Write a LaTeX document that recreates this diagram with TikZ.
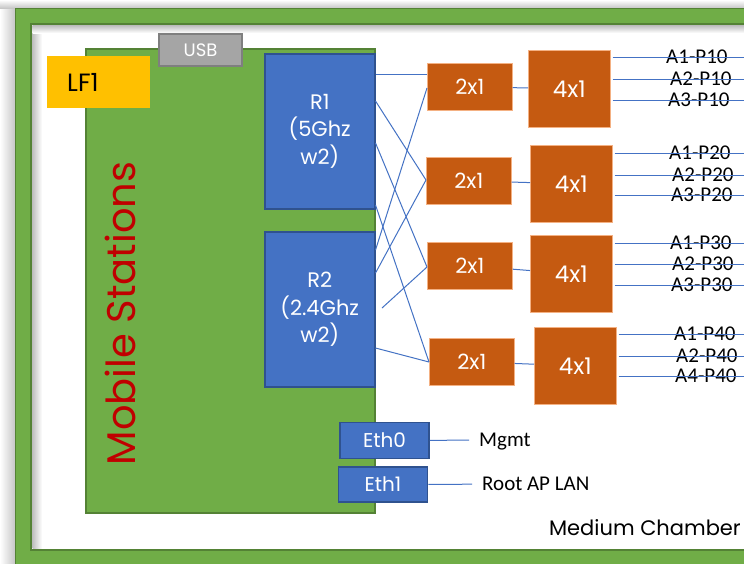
\documentclass[tikz,border=0pt]{standalone}
\usepackage{fontspec}
\setmainfont{Poppins}
\newfontfamily\calibfont{Carlito}
\usetikzlibrary{positioning}
\definecolor{grn}{HTML}{70AD47}
\definecolor{grndk}{HTML}{548235}
\definecolor{blu}{HTML}{4472C4}
\definecolor{bludk}{HTML}{2F528F}
\definecolor{org}{HTML}{C55A11}
\definecolor{orglt}{HTML}{F4B183}
\definecolor{ylw}{HTML}{FFC000}
\definecolor{usbgray}{HTML}{A5A5A5}
\definecolor{usbdk}{HTML}{7F7F7F}
\definecolor{redtxt}{HTML}{C00000}

\begin{document}
\begin{tikzpicture}[
    x=1pt, y=-1pt,
    every node/.style={inner sep=0pt},
    radio/.style={rectangle, anchor=north west, draw=bludk, fill=blu, line width=1.5pt,
                  minimum width=110pt, minimum height=155pt, align=center, text=white,
                  font=\fontsize{21}{27.5}\selectfont},
    net/.style={rectangle, draw=bludk, fill=blu, line width=1.5pt, text=white,
                minimum width=89pt, minimum height=36pt, font=\fontsize{20}{24}\selectfont},
    split/.style={rectangle, anchor=north west, draw=orglt, fill=org, line width=0.6pt,
                  minimum width=85pt, minimum height=47pt, text=white,
                  font=\fontsize{21}{24}\selectfont},
    comb/.style={rectangle, anchor=north west, draw=orglt, fill=org, line width=0.6pt,
                 minimum width=82pt, minimum height=77pt, text=white,
                 font=\fontsize{23}{26}\selectfont},
    port/.style={anchor=west, text depth=0pt, font=\calibfont\fontsize{21}{24}\selectfont},
    lan/.style={anchor=west, inner xsep=10pt, text depth=0pt,
                font=\calibfont\fontsize{21}{24}\selectfont},
    link/.style={blu, line width=1pt}
]
\useasboundingbox (0,0) rectangle (744,563);
\clip (0,0) rectangle (744,563);
% chamber frame
\shade[left color=white, right color=black!22] (0,0) rectangle (15,563);
\shade[top color=white, bottom color=black!22] (0,0) rectangle (744,8);
\draw[grndk, line width=0.8pt, fill=grn] (15,8) rectangle (780,590);
\draw[grndk, line width=2.5pt, fill=white] (31,24) rectangle (770,550);
\shade[left color=black!25, right color=white] (32.5,25.5) rectangle (42,548.5);
\shade[top color=black!25, bottom color=white] (32.5,25.5) rectangle (770,33);
\node[anchor=east, font=\fontsize{21}{25}\selectfont] (chamber) at (741,528) {Medium Chamber};
% mobile stations board
\node[anchor=north west, draw=grndk, fill=grn, line width=1.5pt,
      minimum width=289pt, minimum height=464pt] (mob) at (85,48) {};
\node[rotate=90, text=redtxt, font=\fontsize{40}{44}\selectfont] (mobtxt) at (120,313.5) {Mobile Stations};
\node[draw=usbdk, fill=usbgray, line width=2pt, text=white, minimum width=83pt,
      minimum height=32pt, font=\fontsize{18}{22}\selectfont] (usb) at (200.5,50) {USB};
\node[anchor=north west, fill=ylw, minimum height=52pt, text width=63pt, inner xsep=20pt,
      align=left, font=\fontsize{25}{28}\selectfont] (lf) at (47,56) {LF1};
% radios
\node[radio] (r1) at (264,53) {R1\\(5Ghz\\w2)};
\node[radio] (r2) at (264,231) {R2\\(2.4Ghz\\w2)};
% ethernet
\node[net] (eth0) at (384.5,440.5) {Eth0};
\node[net, minimum height=35pt] (eth1) at (383,484.5) {Eth1};
\node[lan] (mgmt) at (469,440) {Mgmt};
\node[lan] (root) at (472,484) {Root AP LAN};
\draw[link] (eth0) -- (mgmt);
\draw[link] (eth1) -- (root);
% splitters and combiners
\node[split] (sa) at (427,63) {2x1};
\node[split] (sb) at (426,157) {2x1};
\node[split] (sc) at (427,242) {2x1};
\node[split] (sd) at (429,338) {2x1};
\node[comb] (ca) at (528,50) {4x1};
\node[comb] (cb) at (530,145) {4x1};
\node[comb] (cc) at (530,235) {4x1};
\node[comb] (cd) at (534,327) {4x1};
\draw[link] (sa) -- (ca);
\draw[link] (sb) -- (cb);
\draw[link] (sc) -- (cc);
\draw[link] (sd) -- (cd);
% radio to splitter cabling
\coordinate (stub) at (382,308);
\draw[link] (r1.east |- 0,74) -- (sa.west |- 0,74);
\draw[link] (r1.east |- 0,101) -- (sb.west |- 0,180);
\draw[link] (r1.east |- 0,143) -- (sc.west |- 0,267);
\draw[link] (r1.east |- 0,205) -- (sd.west |- 0,362);
\draw[link] (r2.east |- 0,250) -- (sa.west |- 0,88);
\draw[link] (r2.east |- 0,273) -- (sb.west |- 0,180);
\draw[link] (stub) -- (sc.west |- 0,267);
\draw[link] (r2.east |- 0,348) -- (sd.west |- 0,362);
% antenna ports
\foreach \c/\y/\t/\x [count=\i] in {ca/57/A1-P10/666, ca/79/A2-P10/670, ca/100/A3-P10/668,
    cb/153/A1-P20/669, cb/175/A2-P20/672, cb/195/A3-P20/671,
    cc/243/A1-P30/670, cc/264/A2-P30/672, cc/285/A3-P30/671,
    cd/334/A1-P40/674, cd/356/A2-P40/676, cd/376/A4-P40/675}{
  \node[port] (p\i) at (\x,\y) {\t};
  \coordinate (e\i) at (760,\y);
  \draw[link, shorten <=2pt] (\c.east |- 0,\y) -- (e\i);
}
\end{tikzpicture}
\end{document}
